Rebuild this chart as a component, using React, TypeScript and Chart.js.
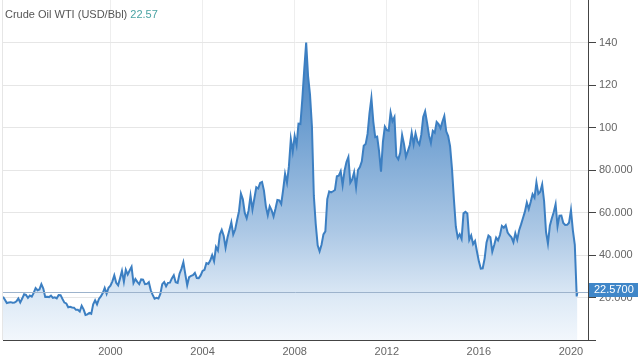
import React, { useEffect, useRef } from "react";
import { Chart, registerables } from "chart.js";

Chart.register(...registerables);

// Month-end WTI closes, first value = April 1995, last full month = March 2020
const firstYear = 1995;
const firstMonth = 4; // April
const wtiMonthEnd: number[] = [
  // 1995 Apr-Dec
  20.4, 18.9, 17.4, 17.6, 17.8, 17.5, 17.6, 18.2, 19.55,
  // 1996
  17.7, 19.5, 21.5, 21.2, 19.8, 20.9, 20.4, 22.2, 24.4, 23.4, 23.8, 26.3,
  // 1997
  24.2, 20.3, 20.4, 20.2, 20.9, 19.8, 20.1, 19.6, 21.2, 21.1, 19.3, 17.6,
  // 1998
  17.2, 15.4, 15.6, 15.3, 15.2, 14.2, 14.2, 13.4, 16.1, 14.4, 11.8, 12.05,
  // 1999
  12.75, 12.3, 16.8, 18.7, 16.8, 19.3, 20.5, 22.1, 24.5, 21.8, 24.6, 25.6,
  // 2000
  27.6, 30.4, 26.9, 25.7, 29.0, 32.5, 27.4, 33.1, 30.8, 32.7, 34.4, 26.8,
  // 2001
  28.7, 27.4, 26.3, 28.5, 28.4, 26.3, 26.4, 27.2, 23.4, 21.2, 19.4, 19.8,
  // 2002
  19.5, 21.7, 26.3, 27.3, 25.3, 26.9, 27.0, 29.0, 30.45, 27.2, 26.9, 31.2,
  // 2003
  33.5, 36.6, 31.0, 25.8, 29.6, 30.2, 30.5, 31.6, 29.2, 29.1, 30.4, 32.5,
  // 2004
  33.05, 36.2, 35.8, 37.4, 39.9, 37.05, 43.8, 42.1, 49.6, 51.8, 49.1, 43.45,
  // 2005
  48.2, 51.75, 55.4, 49.7, 52.0, 56.5, 60.6, 68.9, 66.2, 59.8, 57.3, 61.0,
  // 2006
  67.9, 61.4, 66.6, 71.9, 71.3, 73.9, 74.4, 70.3, 62.9, 58.7, 62.9, 61.05,
  // 2007
  58.1, 61.8, 65.9, 65.7, 64.0, 70.7, 78.2, 74.0, 81.7, 94.5, 88.7, 96.0,
  // 2008
  91.75, 101.8, 101.6, 113.5, 127.4, 140.0, 124.1, 115.5, 100.6, 67.8, 54.4, 44.6,
  // 2009
  41.7, 44.8, 49.7, 51.1, 66.3, 69.9, 69.45, 70.0, 70.6, 77.0, 77.3, 79.4,
  // 2010
  72.9, 79.7, 83.8, 86.15, 74.0, 75.6, 78.95, 71.9, 80.0, 81.4, 84.1, 91.4,
  // 2011
  92.2, 97.0, 106.7, 113.9, 102.7, 95.4, 95.7, 88.8, 79.2, 93.2, 100.4, 98.8,
  // 2012
  98.5, 107.1, 103.0, 104.9, 86.5, 85.0, 88.1, 96.5, 92.2, 86.2, 88.9, 91.8,
  // 2013
  97.5, 92.05, 97.2, 93.5, 92.0, 96.6, 105.0, 107.65, 102.3, 96.4, 92.7, 98.4,
  // 2014
  97.5, 102.6, 101.6, 99.7, 102.7, 105.4, 98.2, 96.0, 91.2, 80.5, 66.15, 53.3,
  // 2015
  48.2, 49.8, 47.6, 59.6, 60.3, 59.5, 47.1, 49.2, 45.1, 46.6, 41.65, 37.0,
  // 2016
  33.6, 33.75, 38.3, 45.9, 49.1, 48.3, 41.6, 44.7, 48.2, 46.9, 49.4, 53.7,
  // 2017
  52.8, 54.0, 50.6, 49.3, 48.3, 46.0, 50.2, 47.2, 51.7, 54.4, 57.4, 60.4,
  // 2018
  64.7, 61.6, 64.9, 68.6, 67.0, 74.15, 68.8, 69.8, 73.25, 65.3, 50.9, 45.4,
  // 2019
  53.8, 57.2, 60.1, 63.9, 53.5, 58.5, 58.6, 55.1, 54.1, 54.2, 55.2, 61.1,
  // 2020 Jan-Mar
  51.6, 44.8, 20.5,
];

const latestDate = 2020.28;
const latestValue = 22.57;
const latestLabel = "22.5700";

const titleText = "Crude Oil WTI (USD/Bbl)";
const titleValue = "22.57";

const xTickYears = [2000, 2004, 2008, 2012, 2016, 2020];
const yTickValues = [0, 20, 40, 60, 80, 100, 120, 140, 160];
const yTickLabels = ["", "20.000", "40.000", "60.000", "80.000", "100", "120", "140", ""];

const FONT = "'Liberation Sans', Arial, Helvetica, sans-serif";

export default function App() {
  const ref = useRef<HTMLCanvasElement | null>(null);

  useEffect(() => {
    document.body.style.margin = "0";
    const canvas = ref.current;
    if (!canvas) return;

    const points = wtiMonthEnd.map((v, i) => ({
      x: firstYear + (firstMonth + i) / 12,
      y: v,
    }));
    points.push({ x: latestDate, y: latestValue });

    const overlay = {
      id: "overlay",
      afterDatasetsDraw(chart: any) {
        const { ctx, chartArea, scales } = chart;
        const y = scales.y.getPixelForValue(latestValue);
        ctx.save();
        ctx.strokeStyle = "#9db3cc";
        ctx.lineWidth = 1;
        ctx.beginPath();
        ctx.moveTo(chartArea.left, Math.round(y) + 0.5);
        ctx.lineTo(chartArea.right, Math.round(y) + 0.5);
        ctx.stroke();
        // faint left frame line
        ctx.strokeStyle = "#e6e6e6";
        ctx.beginPath();
        ctx.moveTo(2.5, 0);
        ctx.lineTo(2.5, chartArea.bottom);
        ctx.stroke();
        ctx.restore();
      },
      afterDraw(chart: any) {
        const { ctx, chartArea, scales } = chart;
        const y = scales.y.getPixelForValue(latestValue);
        ctx.save();
        // value box
        ctx.fillStyle = "#3f86c8";
        ctx.fillRect(chartArea.right + 1, Math.round(y) - 9, 49, 14);
        ctx.fillStyle = "#ffffff";
        ctx.font = "11px " + FONT;
        ctx.textBaseline = "middle";
        ctx.textAlign = "left";
        ctx.fillText(latestLabel, chartArea.right + 6, Math.round(y) - 2);
        // title
        ctx.font = "11px " + FONT;
        ctx.textBaseline = "alphabetic";
        ctx.fillStyle = "#555555";
        ctx.fillText(titleText, 5, 18);
        const w = ctx.measureText(titleText + " ").width;
        ctx.fillStyle = "#4aa3a3";
        ctx.fillText(titleValue, 5 + w, 18);
        ctx.restore();
      },
    };

    const chart = new Chart(canvas, {
      type: "line",
      data: {
        datasets: [
          {
            data: points,
            borderColor: "#3c7fc2",
            borderWidth: 2,
            pointRadius: 0,
            tension: 0,
            fill: "origin",
            backgroundColor: (c: any) => {
              const area = c.chart.chartArea;
              if (!area) return "rgba(100,150,210,0.5)";
              const g = c.chart.ctx.createLinearGradient(0, area.top, 0, area.bottom);
              g.addColorStop(0, "rgb(38,108,182)");
              g.addColorStop(0.38, "rgb(112,160,209)");
              g.addColorStop(0.68, "rgb(172,200,229)");
              g.addColorStop(0.88, "rgb(222,234,246)");
              g.addColorStop(1, "rgb(242,247,252)");
              return g;
            },
          },
        ],
      },
      options: {
        responsive: false,
        animation: false,
        devicePixelRatio: 1,
        layout: { padding: { left: 3, top: 0, right: 0, bottom: 0 } },
        plugins: {
          legend: { display: false },
          tooltip: { enabled: false },
          title: { display: false },
        },
        scales: {
          x: {
            type: "linear",
            min: firstYear + firstMonth / 12,
            max: 2020.74,
            afterBuildTicks: (scale: any) => {
              scale.ticks = xTickYears.map((v) => ({ value: v }));
            },
            afterFit: (scale: any) => {
              scale.height = 19;
              scale.paddingLeft = 0;
              scale.paddingRight = 0;
            },
            border: { display: true, color: "#444444", width: 1 },
            grid: { color: "#eeeeee", drawTicks: false, lineWidth: 1 },
            ticks: {
              autoSkip: false,
              maxRotation: 0,
              padding: 5,
              color: "#666666",
              font: { size: 11, family: FONT },
              callback: (v: any) => String(v),
            },
          },
          y: {
            position: "right",
            min: 0,
            max: 160,
            afterBuildTicks: (scale: any) => {
              scale.ticks = yTickValues.map((v) => ({ value: v }));
            },
            afterFit: (scale: any) => {
              scale.width = 52;
              scale.paddingTop = 0;
              scale.paddingBottom = 0;
            },
            border: { display: true, color: "#444444", width: 1 },
            grid: {
              color: (c: any) =>
                c.tick && (c.tick.value === 160 || c.tick.value === 0) ? "rgba(0,0,0,0)" : "#e6e6e6",
              tickColor: (c: any) =>
                c.tick && c.tick.value === 160 ? "rgba(0,0,0,0)" : "#444444",
              tickLength: 8,
              drawTicks: true,
            },
            ticks: {
              padding: 3,
              color: "#666666",
              font: { size: 11, family: FONT },
              callback: (v: any) => yTickLabels[yTickValues.indexOf(Number(v))] ?? "",
            },
          },
        },
      },
      plugins: [overlay],
    } as any);

    return () => chart.destroy();
  }, []);

  return (
    <div style={{ position: "absolute", left: 0, top: 0, width: 640, height: 359, background: "#fff" }}>
      <canvas ref={ref} width={640} height={359} style={{ display: "block" }} />
    </div>
  );
}
